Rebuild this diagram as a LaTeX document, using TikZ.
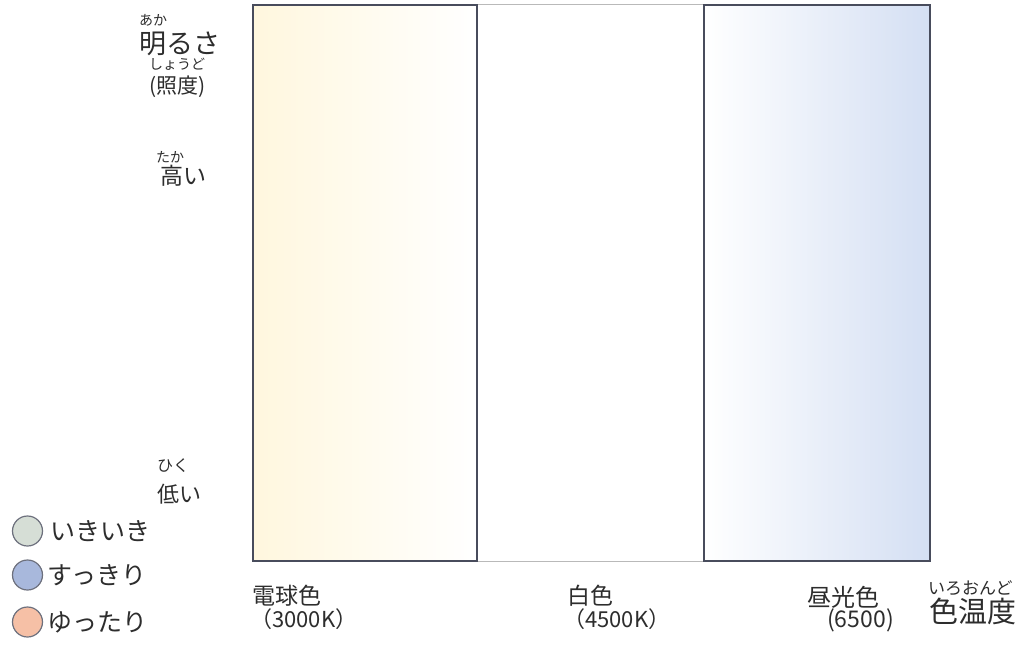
\documentclass[tikz,border=0pt]{standalone}
\usepackage{fontspec}
\setmainfont{Noto Sans CJK JP}
\definecolor{txt}{RGB}{45,45,45}
\definecolor{frame}{RGB}{72,76,92}
\definecolor{warmA}{RGB}{255,247,222}
\definecolor{warmB}{RGB}{255,252,240}
\definecolor{coolA}{RGB}{248,250,254}
\definecolor{coolB}{RGB}{212,223,243}
\definecolor{cIki}{RGB}{214,222,214}
\definecolor{cSuk}{RGB}{168,184,220}
\definecolor{cYut}{RGB}{246,192,166}
\tikzset{
  lbl/.style={anchor=west, inner sep=0pt, text=txt},
  fs/.style={font=\fontsize{#1}{#1}\selectfont},
  panel/.style={rectangle, draw=frame, line width=1.5pt, inner sep=0pt},
  legc/.style={circle, draw=frame!80, line width=1.2pt, minimum size=30pt, inner sep=0pt},
  sep/.style={draw=gray!55, line width=1pt}
}
\begin{document}
\begin{tikzpicture}[x=1pt,y=-1pt]
\useasboundingbox (0,0) rectangle (1024,647);
\fill[white] (0,0) rectangle (1024,647);
% panels
\node (warm) [panel, minimum width=224pt, minimum height=556pt,
  left color=warmA, middle color=warmB, right color=white] at (365,283) {};
\node (cool) [panel, minimum width=226pt, minimum height=556pt,
  left color=white, middle color=coolA, right color=coolB] at (817,283) {};
\draw[sep] (warm.north east) -- (cool.north west);
\draw[sep] (warm.south east) -- (cool.south west);
% axis labels left
\node (aka)  [lbl, fs=14] at (139,20) {あか};
\node (akarusa) [lbl, fs=27] at (139,44) {明るさ};
\node (shoudo) [lbl, fs=14] at (149,64) {しょうど};
\node (shodo) [lbl, fs=21] at (149,87) {(照度)};
\node (taka) [lbl, fs=14] at (156,157) {たか};
\node (takai) [lbl, fs=23] at (160,176) {高い};
\node (hiku) [lbl, fs=16] at (157,466) {ひく};
\node (hikui) [lbl, fs=22] at (157,494) {低い};
% legend
\node (l1) [legc, fill=cIki] at (27.5,531) {};
\node (l2) [legc, fill=cSuk] at (27.5,575) {};
\node (l3) [legc, fill=cYut] at (27.5,622) {};
\node (t1) [lbl, fs=25] at (50,531) {いきいき};
\node (t2) [lbl, fs=25] at (47,575) {すっきり};
\node (t3) [lbl, fs=25] at (47,622) {ゆったり};
% bottom labels
\node (denkyu) [lbl, fs=23] at (252,596) {電球色};
\node (k3000) [lbl, fs=22] at (250,619) {（3000K）};
\node (haku) [lbl, fs=23] at (567,596) {白色};
\node (k4500) [lbl, fs=22] at (563,619) {（4500K）};
\node (chuko) [lbl, fs=24] at (807,597) {昼光色};
\node (k6500) [lbl, fs=23] at (827,620) {(6500)};
\node (iroondo) [lbl, fs=17] at (928,588) {いろおんど};
\node (shokuon) [lbl, fs=29] at (929,611) {色温度};
\end{tikzpicture}
\end{document}
